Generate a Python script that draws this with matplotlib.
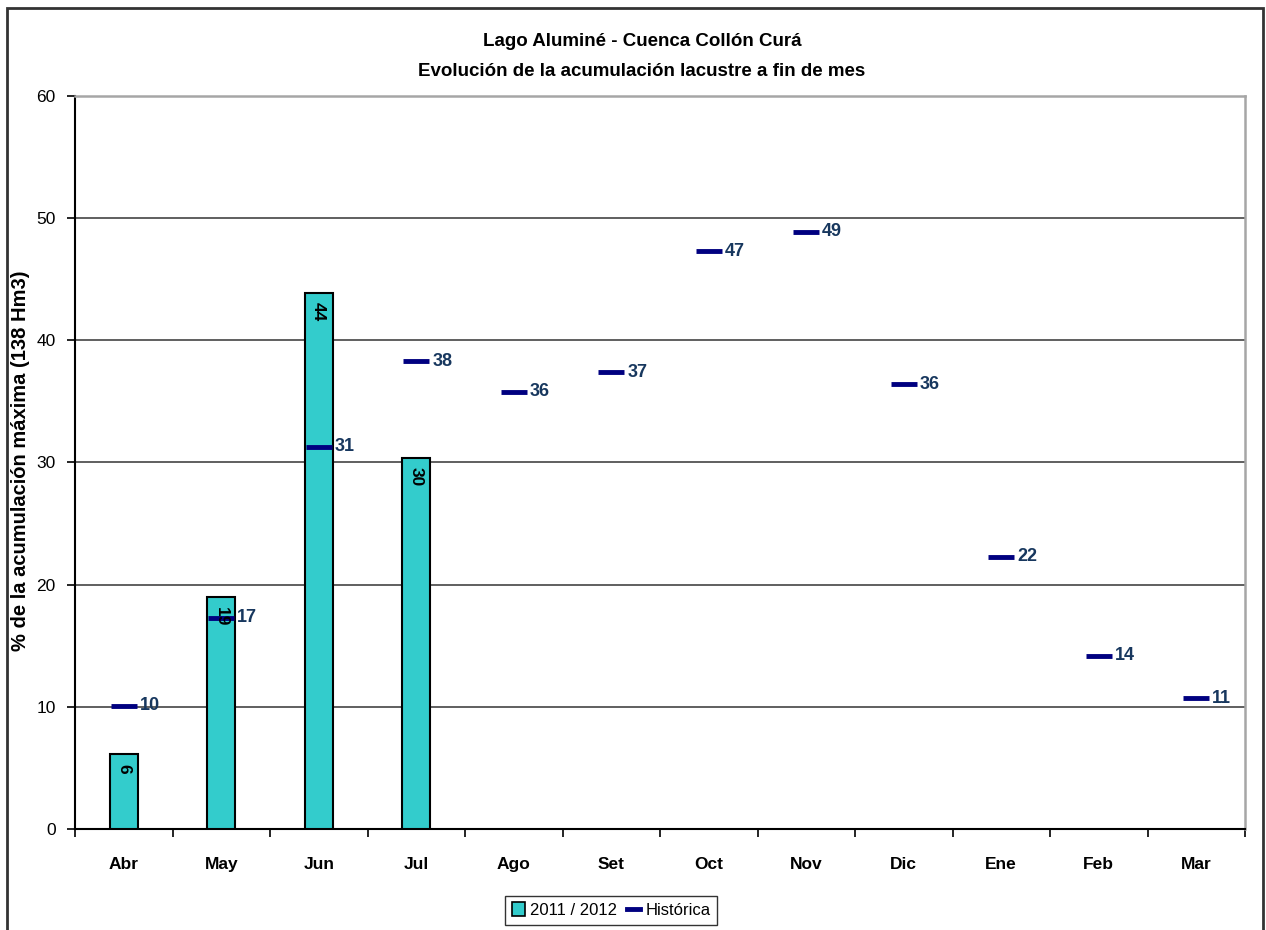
import matplotlib
matplotlib.use("Agg")
import matplotlib.pyplot as plt
from matplotlib.patches import Rectangle
from matplotlib.lines import Line2D

meses = ["Abr", "May", "Jun", "Jul", "Ago", "Set", "Oct", "Nov", "Dic", "Ene", "Feb", "Mar"]
temporada = [6.1, 19.0, 43.9, 30.4]          # 2011 / 2012
historica = [10.1, 17.3, 31.3, 38.3, 35.8, 37.4, 47.3, 48.9, 36.4, 22.3, 14.2, 10.7]
yticks = [0, 10, 20, 30, 40, 50, 60]

FAM = ["Liberation Sans Narrow", "Liberation Sans", "DejaVu Sans"]
plt.rcParams["font.family"] = FAM

W, H = 1266, 930
fig = plt.figure(figsize=(W / 100, H / 100), dpi=100)
ax = fig.add_axes([75 / W, 1 - 829 / H, (1245 - 75) / W, (829 - 96) / H])

x = list(range(len(meses)))
bar_color = "#33CCCC"
dash_color = "#000080"
lab_color = "#17375E"

ax.bar(x[:len(temporada)], temporada, width=0.29, color=bar_color,
       edgecolor="black", linewidth=1.5, zorder=3)
for xi, v in zip(x, temporada):
    ax.annotate(f"{v:.0f}", (xi, v), xytext=(0, -7), textcoords="offset points",
                rotation=-90, ha="center", va="top", fontsize=12.5,
                fontweight="bold", color="black", zorder=5)

ax.plot(x, historica, linestyle="none", marker="_", markersize=19,
        markeredgewidth=3.5, color=dash_color, zorder=4)
for xi, v in zip(x, historica):
    ax.annotate(f"{v:.0f}", (xi, v), xytext=(11.5, 0), textcoords="offset points",
                ha="left", va="center", fontsize=13, fontweight="bold",
                color=lab_color, zorder=5)

ax.set_xlim(-0.5, len(meses) - 0.5)
ax.set_ylim(0, 60)
ax.set_yticks(yticks)
ax.set_yticklabels([str(t) for t in yticks], fontsize=12.5)
ax.set_xticks(x)
ax.set_xticklabels(meses, fontsize=12.5, fontweight="bold")
ax.tick_params(axis="x", length=0, pad=20)
ax.set_xticks([i - 0.5 for i in range(len(meses) + 1)], minor=True)
ax.tick_params(axis="x", which="minor", length=6, width=1.2, color="black")
ax.tick_params(axis="y", length=6, width=1.2, pad=8, color="black")

for t in yticks[1:-1]:
    ax.axhline(t, color="#5F5F5F", linewidth=1.4, zorder=1)

for side in ["top", "right"]:
    ax.spines[side].set_color("#A6A6A6")
    ax.spines[side].set_linewidth(1.8)
for side in ["left", "bottom"]:
    ax.spines[side].set_color("black")
    ax.spines[side].set_linewidth(1.5)

ax.set_ylabel("% de la acumulación máxima (138 Hm3)", fontsize=14.5,
              fontweight="bold")
ax.yaxis.set_label_coords((30 - 75) / (1245 - 75), (829 - 461) / (829 - 96))

fig.text(642 / W, 1 - 42 / H, "Lago Aluminé - Cuenca Collón Curá",
         ha="center", va="center", fontsize=13.5, fontweight="bold")
fig.text(642 / W, 1 - 71 / H, "Evolución de la acumulación lacustre a fin de mes",
         ha="center", va="center", fontsize=13.5, fontweight="bold")

handles = [
    Rectangle((0, 0), 1, 1, facecolor=bar_color, edgecolor="black", linewidth=1.2),
    Line2D([], [], color=dash_color, linewidth=3.5),
]
leg = fig.legend(handles, ["2011 / 2012", "Histórica"], loc="center",
                 bbox_to_anchor=(611 / W, 1 - 910 / H), ncol=2, frameon=True,
                 fancybox=False, edgecolor="black", fontsize=12,
                 handlelength=0.8, handleheight=0.9, handletextpad=0.3,
                 columnspacing=0.6, borderpad=0.4, borderaxespad=0)
leg.get_frame().set_linewidth(1.0)

# outer chart frame
fig.patches.append(Rectangle((7 / W, -0.05), (1263 - 7) / W, 1.05 - 8 / H,
                             transform=fig.transFigure, fill=False,
                             edgecolor="#333333", linewidth=2, clip_on=False))

fig.savefig("out.png", dpi=100)
